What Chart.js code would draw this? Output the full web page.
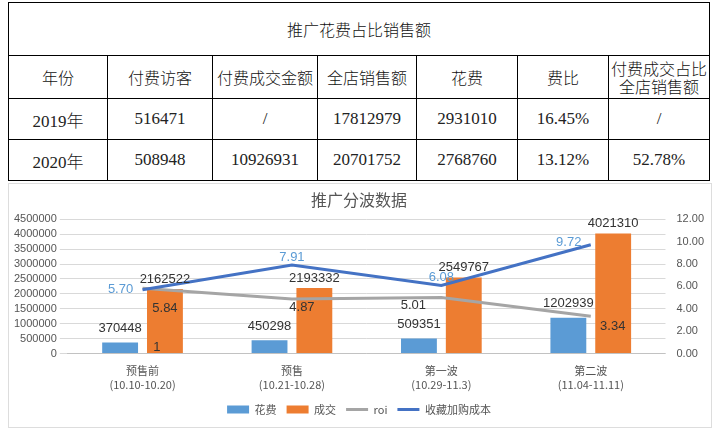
<!DOCTYPE html>
<html><head><meta charset="utf-8">
<script src="https://cdn.jsdelivr.net/npm/chart.js@4"></script>
<style>
body{margin:0;background:#fff;width:720px;height:433px;overflow:hidden;font-family:"Noto Sans CJK SC";}
table{position:absolute;left:8px;top:2px;border-collapse:collapse;width:702px;}
td{border:1.5px solid #000;text-align:center;font-size:16px;color:#111;padding:0;font-weight:300;}
.n{font-family:"Liberation Serif";font-size:17px;font-weight:400;color:#222;}
.n span{font-family:"Noto Sans CJK SC";font-weight:300;}
#box{position:absolute;left:8px;top:183px;width:702px;height:243px;border:1px solid #ddd;}
</style></head><body>
<table>
<tr style="height:53px"><td colspan="7" style="font-size:16px">推广花费占比销售额</td></tr>
<tr style="height:43px"><td style="width:98px">年份</td><td style="width:104px">付费访客</td><td style="width:104px">付费成交金额</td><td style="width:98px">全店销售额</td><td style="width:100px">花费</td><td style="width:90px">费比</td><td style="line-height:18px">付费成交占比<br>全店销售额</td></tr>
<tr style="height:41px"><td class="n">2019<span>年</span></td><td class="n">516471</td><td class="n">/</td><td class="n">17812979</td><td class="n">2931010</td><td class="n">16.45%</td><td class="n">/</td></tr>
<tr style="height:41px"><td class="n">2020<span>年</span></td><td class="n">508948</td><td class="n">10926931</td><td class="n">20701752</td><td class="n">2768760</td><td class="n">13.12%</td><td class="n">52.78%</td></tr>
</table>
<div id="box"><canvas id="c"></canvas></div>
<script>
const categories=[["预售前","(10.10-10.20)"],["预售","(10.21-10.28)"],["第一波","(10.29-11.3)"],["第二波","(11.04-11.11)"]];
const spend=[370448,450298,509351,1202939];
const deal=[2162522,2193332,2549767,4021310];
const roi=[5.84,4.87,5.01,3.34];
const roiLabels=["1","4.87","5.01","3.34"];
const favCost=[5.70,7.91,6.08,9.72];
const F='"Liberation Sans", Arial';
const labelPlugin={id:'lbl',afterDatasetsDraw(ch){
 const c=ch.ctx;c.save();c.font='13px '+F;c.textAlign='center';
 const m=i=>ch.getDatasetMeta(i).data;
 m(0).forEach((e,i)=>{c.fillStyle='#333';c.fillText(spend[i],e.x,e.y-14);});
 m(1).forEach((e,i)=>{c.fillStyle='#333';c.fillText(deal[i],e.x,e.y-10);});
 const base=ch.scales.y.getPixelForValue(0);
 const r=m(2);
 c.fillStyle='#333';
 c.fillText(roiLabels[0],m(1)[0].x-8,base-6);
 c.fillText(roiLabels[1],r[1].x+10,r[1].y+8);
 c.fillText(roiLabels[2],r[2].x-28,r[2].y+8);
 c.fillText(roiLabels[3],r[3].x+22,r[3].y+10);
 c.fillText(roi[0].toFixed(2),m(1)[0].x,r[0].y+20);
 const bo=[[-22,0],[0,-8],[0,-8],[-22,-2]];
 m(3).forEach((e,i)=>{c.fillStyle='#5b9bd5';c.fillText(favCost[i].toFixed(2),e.x+bo[i][0],e.y+bo[i][1]);});
 c.restore();}};
new Chart(document.getElementById('c'),{
 data:{labels:categories,datasets:[
  {type:'bar',label:'花费',data:spend,backgroundColor:'#5b9bd5',yAxisID:'y',order:3,barPercentage:0.8,categoryPercentage:0.6,pointStyle:'rect'},
  {type:'bar',label:'成交',data:deal,backgroundColor:'#ed7d31',yAxisID:'y',order:3,barPercentage:0.8,categoryPercentage:0.6,pointStyle:'rect'},
  {type:'line',label:'roi',data:roi,borderColor:'#a5a5a5',backgroundColor:'#a5a5a5',borderWidth:3,pointRadius:0,yAxisID:'y1',order:1,pointStyle:'line'},
  {type:'line',label:'收藏加购成本',data:favCost,borderColor:'#4472c4',backgroundColor:'#4472c4',borderWidth:3,pointRadius:0,yAxisID:'y1',order:0,pointStyle:'line'}
 ]},
 options:{responsive:true,maintainAspectRatio:false,animation:false,
  layout:{padding:{left:2,right:4,top:4,bottom:2}},
  plugins:{title:{display:true,text:'推广分波数据',font:{size:16,family:'"Noto Sans CJK SC"',weight:'normal'},color:'#555',padding:{top:2,bottom:10}},
   legend:{position:'bottom',labels:{usePointStyle:true,pointStyleWidth:22,boxHeight:8,sort:(a,b)=>a.datasetIndex-b.datasetIndex,font:{size:11,family:'"Noto Sans CJK SC"'},color:'#555'}},tooltip:{enabled:false}},
  scales:{
   x:{grid:{display:false},ticks:{color:'#555',font:{size:11,family:'"Noto Sans CJK SC"'}}},
   y:{min:0,max:4500000,ticks:{stepSize:500000,autoSkip:false,color:'#555',font:{size:11,family:F},callback:v=>String(v)},grid:{color:'#d9d9d9'},border:{display:false}},
   y1:{position:'right',min:0,max:12,ticks:{stepSize:2,color:'#555',font:{size:11,family:F},callback:v=>v.toFixed(2)},grid:{display:false},border:{display:false}}
  }},
 plugins:[labelPlugin]});
</script></body></html>
